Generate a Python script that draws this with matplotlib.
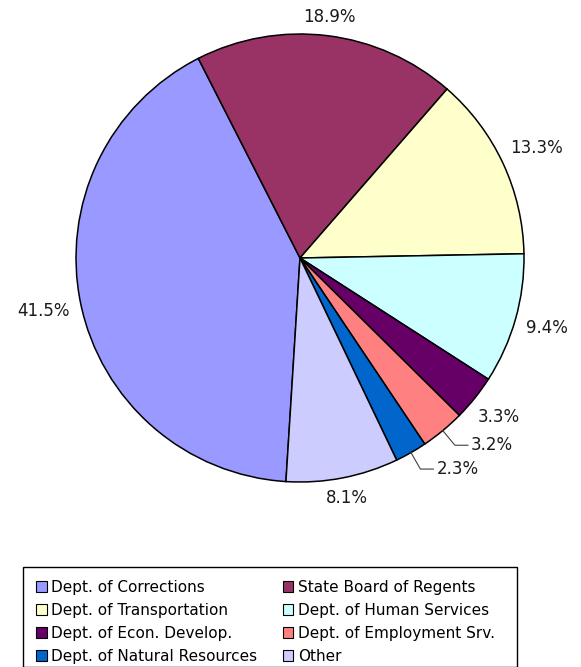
import numpy as np
import matplotlib.pyplot as plt
from matplotlib.patches import Patch, Rectangle

## dados do grafico
depts = ['Dept. of Corrections', 'State Board of Regents',
         'Dept. of Transportation', 'Dept. of Human Services',
         'Dept. of Econ. Develop.', 'Dept. of Employment Srv.',
         'Dept. of Natural Resources', 'Other']
shares = [41.5, 18.9, 13.3, 9.4, 3.3, 3.2, 2.3, 8.1]
colors = ['#9999FF', '#993366', '#FFFFCC', '#CCFFFF',
          '#660066', '#FF8080', '#0066CC', '#CCCCFF']
leader = [False, False, False, False, False, True, True, False]

W, H = 581, 667
cx, cy, R = 300, H - 258, 224   ## centro e raio em pixels
fs = 11      ## legenda
fs_pct = 12  ## porcentagens

fig = plt.figure(figsize=(W / 100, H / 100), dpi=100)
ax = fig.add_axes([0, 0, 1, 1])
ax.set_xlim(0, W)
ax.set_ylim(0, H)
ax.set_aspect('equal')
ax.axis('off')

wedges, _ = ax.pie(shares, colors=colors, startangle=266.4, counterclock=False,
                   center=(cx, cy), radius=R,
                   wedgeprops=dict(edgecolor='black', linewidth=1.1))
ax.set_xlim(0, W)
ax.set_ylim(0, H)

## rotulos de porcentagem
for w, v, ld in zip(wedges, shares, leader):
    mid = np.deg2rad((w.theta1 + w.theta2) / 2)
    c, s = np.cos(mid), np.sin(mid)
    txt = '%.1f%%' % v
    if ld:
        x0, y0 = cx + R * c, cy + R * s
        x1, y1 = cx + (R + 19) * c, cy + (R + 19) * s
        ax.plot([x0, x1, x1 + 13], [y0, y1, y1], color='#404040', lw=0.8)
        ax.text(x1 + 16, y1, txt, ha='left', va='center', fontsize=fs_pct, color='#1a1a1a')
    else:
        hw = len(txt) * 5.4
        r = R + 10 + hw * abs(c) + 6 * abs(s)
        ax.text(cx + r * c, cy + r * s, txt, ha='center', va='center',
                fontsize=fs_pct, color='#1a1a1a')

## legenda
fig.patches.append(Rectangle((23 / W, 0), (517 - 23) / W, (H - 574) / H + 0.01,
                             transform=fig.transFigure, fill=False,
                             edgecolor='black', linewidth=1.0))
handles = [Patch(facecolor=col, edgecolor='black', linewidth=0.8) for col in colors]
order = [0, 2, 4, 6, 1, 3, 5, 7]
fig.legend([handles[i] for i in order], [depts[i] for i in order],
           ncol=2, loc='upper left', bbox_to_anchor=(36 / W, 1 - 580 / H),
           frameon=False, fontsize=fs, handlelength=0.7, handleheight=0.7,
           handletextpad=0.3, columnspacing=1.65, labelspacing=0.52,
           borderpad=0, borderaxespad=0)

plt.savefig('out.png', dpi=100)
